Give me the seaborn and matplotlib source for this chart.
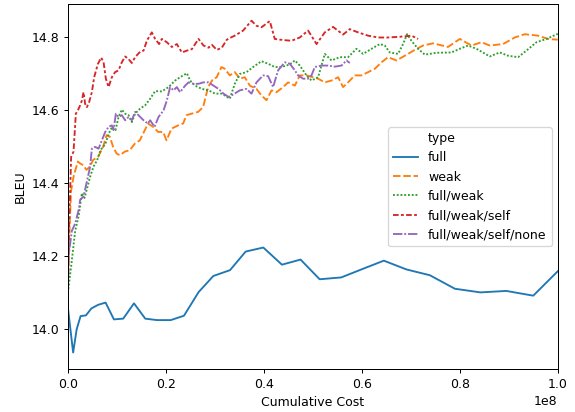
import numpy as np
import pandas as pd
import matplotlib
matplotlib.use('Agg')
import matplotlib.pyplot as plt
import seaborn as sns
from matplotlib.lines import Line2D

full_cost = [0, 1.08, 1.8, 2.6, 3.7, 4.8, 6.2, 7.7, 9.4, 11.3, 13.5, 15.8, 18.2, 21.0,
             23.7, 26.7, 29.7, 33.1, 36.3, 39.9, 43.7, 47.5, 51.4, 55.8, 60.3, 64.5,
             69.1, 73.9, 79.0, 84.2, 89.5, 95.0, 100]
full_bleu = [14.06, 13.936, 14.0, 14.036, 14.038, 14.057, 14.067, 14.073, 14.027, 14.029,
             14.071, 14.029, 14.025, 14.025, 14.037, 14.102, 14.146, 14.162, 14.213,
             14.224, 14.177, 14.191, 14.137, 14.142, 14.166, 14.188, 14.164, 14.148,
             14.111, 14.101, 14.105, 14.092, 14.159]

weak_cost = [0, 0.41, 0.67, 1.16, 2.04, 2.45, 3.12, 3.8, 4.49, 5.16, 6.18, 7.2, 7.9, 8.57,
             9.24, 9.94, 10.61, 11.63, 12.65, 13.67, 14.69, 15.71, 16.39, 17.41, 18.43,
             19.45, 20.14, 21.16, 22.51, 23.53, 24.22, 25.24, 26.59, 27.61, 28.63, 29.65,
             30.34, 31.37, 32.04, 33.06, 34.08, 35.1, 36.12, 37.14, 38.51, 39.53, 40.55,
             41.57, 42.59, 43.94, 44.96, 46.33, 47.35, 48.71, 50.06, 51.08, 52.45, 53.82,
             55.16, 56.18, 57.2, 58.57, 59.94, 61.29, 62.65, 64.02, 65.37, 67.08, 68.78,
             70.82, 72.51, 74.55, 77.61, 80.0, 82.39, 84.43, 86.12, 88.84, 91.22, 93.27,
             95.98, 98.02, 100]
weak_bleu = [14.12, 14.30, 14.38, 14.418, 14.46, 14.455, 14.45, 14.437, 14.446, 14.464,
             14.473, 14.5, 14.532, 14.528, 14.5, 14.482, 14.477, 14.487, 14.491, 14.509,
             14.518, 14.546, 14.564, 14.555, 14.541, 14.541, 14.518, 14.55, 14.559,
             14.564, 14.587, 14.591, 14.596, 14.609, 14.664, 14.687, 14.69, 14.719,
             14.714, 14.696, 14.705, 14.687, 14.691, 14.668, 14.659, 14.641, 14.628,
             14.655, 14.65, 14.664, 14.677, 14.668, 14.696, 14.696, 14.691, 14.687,
             14.677, 14.682, 14.691, 14.664, 14.677, 14.696, 14.696, 14.705, 14.714,
             14.732, 14.746, 14.737, 14.75, 14.766, 14.778, 14.784, 14.774, 14.796,
             14.778, 14.787, 14.778, 14.782, 14.8, 14.809, 14.805, 14.796, 14.794]

fw_cost = [0, 0.67, 1.5, 2.2, 2.86, 3.4, 4.55, 5.24, 5.99, 6.67, 7.69, 8.37, 9.05, 9.73,
           10.35, 11.02, 11.69, 12.39, 13.06, 13.73, 14.76, 15.78, 16.8, 17.82, 19.18,
           20.55, 21.9, 22.92, 24.29, 24.96, 25.98, 27.35, 28.71, 30.07, 31.43, 32.04,
           33.06, 34.08, 35.1, 36.47, 37.82, 39.53, 40.88, 42.24, 43.61, 45.31, 46.33,
           47.35, 48.71, 49.73, 51.08, 52.45, 53.82, 55.51, 57.2, 58.92, 60.27, 61.98,
           63.67, 64.69, 65.71, 67.41, 68.43, 69.24, 70.14, 71.49, 72.86, 75.24, 78.31,
           80.0, 81.69, 83.41, 86.12, 88.16, 89.86, 91.9, 93.61, 95.65, 97.69, 100]
fw_bleu = [14.10, 14.172, 14.27, 14.31, 14.373, 14.36, 14.418, 14.446, 14.464, 14.491,
           14.509, 14.537, 14.555, 14.546, 14.582, 14.602, 14.591, 14.587, 14.568,
           14.591, 14.605, 14.614, 14.632, 14.653, 14.652, 14.664, 14.682, 14.691,
           14.702, 14.682, 14.668, 14.659, 14.655, 14.646, 14.646, 14.641, 14.632,
           14.673, 14.7, 14.705, 14.719, 14.735, 14.728, 14.719, 14.719, 14.726, 14.737,
           14.723, 14.696, 14.682, 14.691, 14.755, 14.737, 14.746, 14.746, 14.769,
           14.755, 14.769, 14.782, 14.778, 14.759, 14.755, 14.782, 14.809, 14.791,
           14.769, 14.753, 14.758, 14.759, 14.769, 14.778, 14.769, 14.748, 14.759,
           14.750, 14.746, 14.764, 14.787, 14.796, 14.81]

fws_cost = [0, 0.2, 0.67, 1.16, 1.63, 2.04, 2.51, 2.86, 3.2, 3.53, 3.88, 4.35, 4.9, 5.37,
            6.12, 6.8, 7.29, 7.76, 8.31, 8.98, 9.65, 10.35, 11.02, 11.69, 12.39, 13.06,
            13.73, 14.76, 15.45, 16.12, 17.14, 17.82, 18.63, 19.18, 20.2, 21.22, 22.24,
            23.27, 24.29, 25.31, 26.67, 27.69, 28.71, 29.39, 30.41, 31.43, 32.45, 33.12,
            34.08, 35.78, 37.49, 38.51, 39.53, 41.22, 42.24, 43.94, 45.65, 47.35, 49.04,
            50.76, 52.45, 54.14, 56.18, 57.55, 59.24, 61.29, 63.33, 65.37, 67.76, 70.14,
            71.49]
fws_bleu = [14.10, 14.25, 14.473, 14.487, 14.591, 14.6, 14.614, 14.627, 14.65, 14.618,
            14.609, 14.623, 14.65, 14.691, 14.727, 14.745, 14.732, 14.687, 14.664, 14.691,
            14.705, 14.71, 14.732, 14.748, 14.741, 14.730, 14.746, 14.761, 14.764, 14.791,
            14.814, 14.796, 14.782, 14.796, 14.787, 14.774, 14.782, 14.759, 14.764,
            14.768, 14.796, 14.778, 14.772, 14.780, 14.766, 14.772, 14.794, 14.799,
            14.805, 14.819, 14.846, 14.832, 14.828, 14.845, 14.796, 14.793, 14.791, 14.8,
            14.819, 14.782, 14.814, 14.829, 14.808, 14.823, 14.814, 14.805, 14.8, 14.8,
            14.802, 14.805, 14.796]

fwsn_cost = [0, 0.14, 0.82, 1.5, 2.2, 2.51, 3.2, 3.8, 4.55, 4.9, 5.57, 6.27, 6.94, 7.63,
             8.31, 8.98, 9.33, 9.8, 10.35, 11.02, 11.69, 12.39, 13.06, 13.73, 14.41, 15.45,
             16.33, 16.8, 17.69, 18.51, 19.53, 20.2, 20.88, 21.57, 22.24, 22.92, 23.94,
             24.63, 25.65, 26.67, 27.69, 28.71, 29.73, 30.75, 31.78, 32.8, 33.41, 35.1,
             36.47, 37.49, 38.51, 39.86, 40.88, 41.9, 42.92, 44.29, 45.31, 46.33, 47.0,
             48.02, 49.04, 49.73, 50.41, 51.78, 53.12, 54.49, 55.86, 56.88, 57.55]
fwsn_bleu = [14.06, 14.2, 14.27, 14.29, 14.327, 14.355, 14.364, 14.40, 14.446, 14.495,
             14.5, 14.495, 14.518, 14.541, 14.555, 14.559, 14.546, 14.591, 14.582, 14.587,
             14.573, 14.582, 14.573, 14.596, 14.587, 14.573, 14.564, 14.573, 14.555,
             14.582, 14.6, 14.627, 14.664, 14.655, 14.664, 14.65, 14.668, 14.677, 14.673,
             14.673, 14.677, 14.677, 14.668, 14.659, 14.646, 14.637, 14.641, 14.655,
             14.659, 14.646, 14.677, 14.696, 14.694, 14.664, 14.71, 14.732, 14.728, 14.71,
             14.696, 14.687, 14.687, 14.696, 14.719, 14.723, 14.723, 14.72, 14.723,
             14.737, 14.73]

type_names = ['full', 'weak', 'full/weak', 'full/weak/self', 'full/weak/self/none']
series = [(full_cost, full_bleu), (weak_cost, weak_bleu), (fw_cost, fw_bleu),
          (fws_cost, fws_bleu), (fwsn_cost, fwsn_bleu)]

frames = []
for name, (c, b) in zip(type_names, series):
    frames.append(pd.DataFrame({'Cumulative Cost': np.array(c) * 1e6,
                                'BLEU': b, 'type': name}))
df = pd.concat(frames, ignore_index=True)

fig = plt.figure(figsize=(575 / 90, 412 / 90), dpi=90)
ax = fig.add_axes([0.118, 0.104, 0.852, 0.886])
sns.lineplot(data=df, x='Cumulative Cost', y='BLEU', hue='type', style='type',
             hue_order=type_names, style_order=type_names, ax=ax)
ax.set_xlim(0, 1e8)

# old-style legend: "type" as a row with an empty handle
leg = ax.get_legend()
handles = list(leg.legend_handles)
labels = [t.get_text() for t in leg.get_texts()]
blank = Line2D([], [], linestyle='none')
ax.legend([blank] + handles, ['type'] + labels, loc='center right')

fig.savefig('out.png', dpi=90)
